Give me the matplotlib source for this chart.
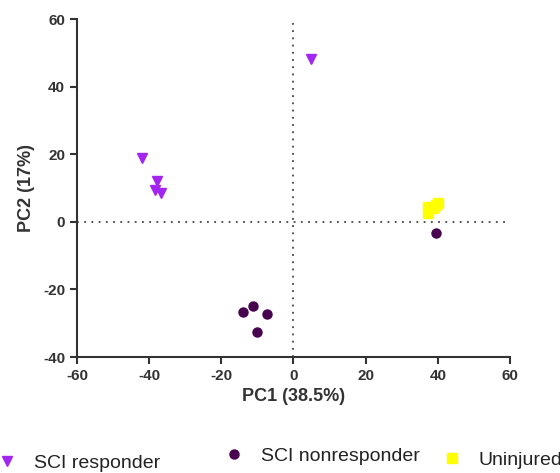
import numpy as np
import matplotlib.pyplot as plt
from matplotlib.lines import Line2D

plt.rcParams['font.family'] = ['Liberation Sans', 'DejaVu Sans']
plt.rcParams['axes.unicode_minus'] = False

# PCA scores
resp_pc1 = [4.9, -42.0, -37.8, -38.4, -36.7]
resp_pc2 = [48.2, 19.0, 12.0, 9.3, 8.6]
nonresp_pc1 = [-14.1, -11.1, -7.4, -10.0, 39.5]
nonresp_pc2 = [-26.8, -24.8, -27.2, -32.6, -3.3]
uninj_pc1 = [37.2, 37.4, 38.6, 39.6, 40.0]
uninj_pc2 = [2.6, 4.4, 4.2, 5.0, 5.6]

groups = ['SCI responder', 'SCI nonresponder', 'Uninjured']
colors = ['#A326F0', '#47034E', '#FFFF00']
markers = ['v', 'o', 's']

fig = plt.figure(figsize=(5.6, 4.73), dpi=100)
ax = fig.add_axes([0.1375, 0.2452, 0.7732, 0.7146])

ax.axvline(0, color='#444444', ls=(0, (1, 3)), lw=1.3, zorder=1)
ax.axhline(0, color='#444444', ls=(0, (1, 3)), lw=1.3, zorder=1)

ax.plot(resp_pc1, resp_pc2, ls='none', marker=markers[0], ms=7,
        color=colors[0], zorder=3)
ax.plot(nonresp_pc1, nonresp_pc2, ls='none', marker=markers[1], ms=6.5,
        color=colors[1], zorder=3)
ax.plot(uninj_pc1, uninj_pc2, ls='none', marker=markers[2], ms=6.5,
        color=colors[2], zorder=3)

ax.set_xlim(-60, 60)
ax.set_ylim(-40, 60)
ax.set_xticks(np.arange(-60, 61, 20))
ax.set_yticks(np.arange(-40, 61, 20))
for s in ['top', 'right']:
    ax.spines[s].set_visible(False)
for s in ['left', 'bottom']:
    ax.spines[s].set_linewidth(1.5)
    ax.spines[s].set_color('#333333')
ax.tick_params(direction='out', length=5, width=1.5, color='#333333',
               labelsize=11, labelcolor='#333333')
for lab in ax.get_xticklabels() + ax.get_yticklabels():
    lab.set_fontweight('bold')

ax.set_xlabel('PC1 (38.5%)', fontsize=13, fontweight='bold', color='#333333',
              labelpad=4)
ax.set_ylabel('PC2 (17%)', fontsize=13, fontweight='bold', color='#333333',
              labelpad=6)

# legend entries placed separately, as in the original layout
leg_pos = [(-0.0266, -0.0137), (0.3779, 0.0), (0.7671, -0.0085)]
ms_leg = [6.5, 6.5, 6.5]
for g, c, m, pos, ms in zip(groups, colors, markers, leg_pos, ms_leg):
    h = Line2D([], [], ls='none', marker=m, color=c, ms=ms)
    fig.legend([h], [g], loc='lower left', bbox_to_anchor=pos,
               frameon=False, fontsize=14, handletextpad=0.63,
               handlelength=1.5, borderaxespad=0, labelcolor='#222222')

fig.savefig('out.png', dpi=100)
